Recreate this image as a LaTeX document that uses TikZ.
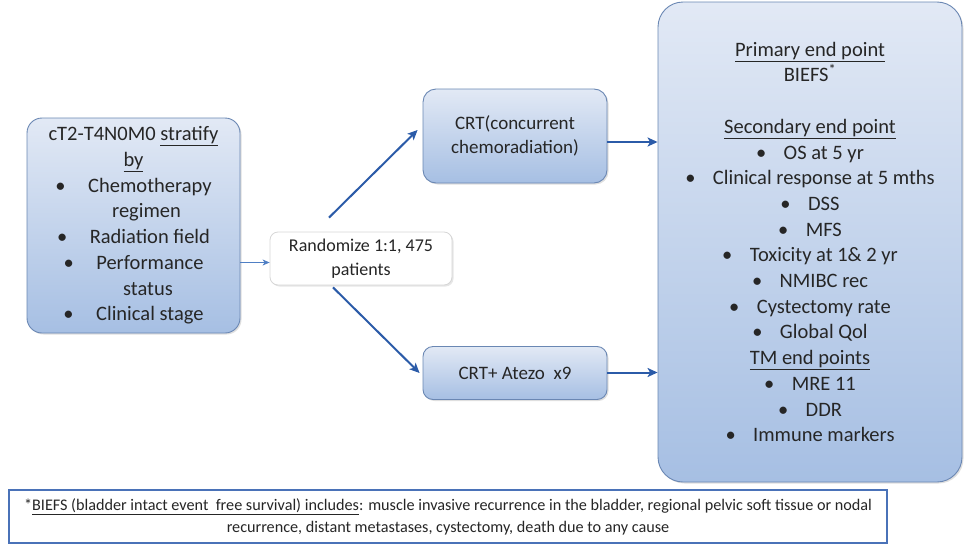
\documentclass[tikz,border=0pt]{standalone}
\usepackage{fontspec}
\setmainfont{Carlito}
\usetikzlibrary{shadows,arrows.meta}
\definecolor{boxtop}{HTML}{E2E9F5}
\definecolor{boxbot}{HTML}{A6BFE3}
\definecolor{boxline}{HTML}{6A87B3}
\definecolor{arrowc}{HTML}{2B5BA8}
\definecolor{arrowl}{HTML}{4F7FC4}
\definecolor{txt}{HTML}{262626}
\definecolor{fnline}{HTML}{4A72B8}
\definecolor{rline}{HTML}{D6D6D6}
\newcommand\lbul{\textbullet\hspace{1.1em}}
\newcommand\rbul{\textbullet\hspace{0.85em}}
\begin{document}
\begin{tikzpicture}[x=1pt,y=-1pt,
 bluebox/.style={draw=boxline, line width=0.9pt, top color=boxtop, bottom color=boxbot,
   align=center, text=txt, inner sep=0pt,
   drop shadow={opacity=0.25, shadow xshift=1.5pt, shadow yshift=-1.5pt}},
 whitebox/.style={draw=rline, line width=0.8pt, fill=white, rounded corners=8pt,
   align=center, text=txt, inner sep=0pt,
   drop shadow={opacity=0.2, shadow xshift=1.5pt, shadow yshift=-1.5pt}},
 fnbox/.style={draw=fnline, line width=1.2pt, fill=white, align=center, text=txt, inner sep=0pt},
 arr/.style={draw=arrowc, line width=2pt, -{Stealth[length=10pt,width=9pt,inset=2.5pt]}},
 thinarr/.style={draw=arrowl, line width=1pt, -{Stealth[length=7pt,width=6pt,inset=2pt]}},
 bigfont/.style={font=\fontsize{20.5}{25.7}\selectfont},
 midfont/.style={font=\fontsize{19}{24}\selectfont}
]
\useasboundingbox (0,0) rectangle (968,554);

\node[bluebox, bigfont, rounded corners=15pt, minimum width=213pt, minimum height=215pt] (left) at (133.5,225.5)
{cT2-T4N0M0 \underline{stratify}\\
\underline{by}\\
\lbul Chemotherapy\\
\hspace*{26pt}regimen\\
\lbul Radiation field\\
\lbul Performance\\
\hspace*{29pt}status\\
\lbul Clinical stage};

\node[whitebox, font=\fontsize{18}{24}\selectfont, minimum width=182pt, minimum height=53pt] (rand) at (361,258.5)
{Randomize 1:1, 475\\ patients};

\node[bluebox, midfont, rounded corners=13pt, minimum width=184pt, minimum height=94pt] (crt1) at (515,136)
{CRT(concurrent\\ chemoradiation)};

\node[bluebox, midfont, rounded corners=10pt, minimum width=184pt, minimum height=53pt] (crt2) at (515,373)
{CRT+ Atezo\ \ x9};

\node[bluebox, bigfont, rounded corners=25pt, minimum width=304pt, minimum height=480pt] (right) at (810,242)
{\underline{Primary end point}\\
BIEFS\textsuperscript{*}\\
\mbox{}\\
\underline{Secondary end point}\\
\rbul OS at 5 yr\\
\rbul Clinical response at 5 mths\\
\rbul DSS\\
\rbul MFS\\
\rbul Toxicity at 1\& 2 yr\\
\rbul NMIBC rec\\
\rbul Cystectomy rate\\
\rbul Global Qol\\
\underline{TM end points}\\
\rbul MRE 11\\
\rbul DDR\\
\rbul Immune markers};

\node[fnbox, font=\fontsize{16.2}{22}\selectfont, minimum width=878pt, minimum height=53pt] (fn) at (448,516.5)
{\raisebox{-3pt}{*\underline{BIEFS (bladder intact event\ \ free survival) includes}: muscle invasive recurrence in the bladder, regional pelvic soft tissue or nodal}\\
\raisebox{-3pt}{recurrence, distant metastases, cystectomy, death due to any cause}};

\coordinate (r0) at ([yshift=-4pt]rand.west);
\draw[thinarr] (r0 -| left.east) -- (r0);
\draw[arr] ([xshift=-32pt,yshift=14pt]rand.north) -- ([xshift=-5pt,yshift=6pt]crt1.west);
\draw[arr] ([xshift=-28pt,yshift=-2pt]rand.south) -- ([xshift=-3pt]crt2.west);
\coordinate (c1) at ([yshift=-6pt]crt1.east);
\draw[arr] (c1) -- (c1 -| right.west);
\coordinate (c2) at ([yshift=0.5pt]crt2.east);
\draw[arr] (c2) -- (c2 -| right.west);
\end{tikzpicture}
\end{document}
